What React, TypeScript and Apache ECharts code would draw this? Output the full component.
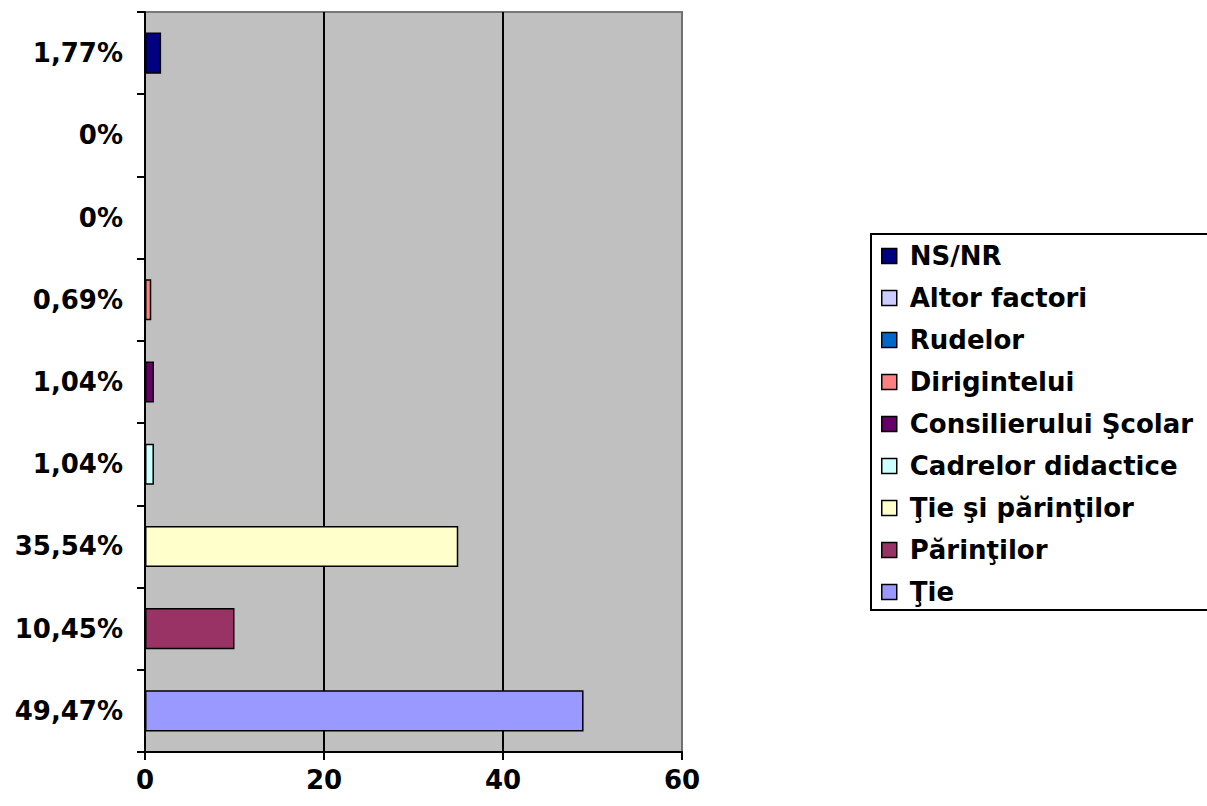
import React, { useEffect, useRef } from "react";
import * as echarts from "echarts";

// bottom-to-top order
const categoryLabels = ["49,47%", "10,45%", "35,54%", "1,04%", "1,04%", "0,69%", "0%", "0%", "1,77%"];
const seriesNames = ["Ţie", "Părinţilor", "Ţie şi părinţilor", "Cadrelor didactice", "Consilierului Şcolar", "Dirigintelui", "Rudelor", "Altor factori", "NS/NR"];
const values = [49, 10, 35, 1, 1, 0.7, 0, 0, 1.8];
const colors = ["#9999FF", "#993366", "#FFFFCC", "#CCFFFF", "#660066", "#FF8080", "#0066CC", "#CCCCFF", "#000080"];
const legendOrder = ["NS/NR", "Altor factori", "Rudelor", "Dirigintelui", "Consilierului Şcolar", "Cadrelor didactice", "Ţie şi părinţilor", "Părinţilor", "Ţie"];
const xTicks = { min: 0, max: 60, interval: 20 };

const FONT = "'DejaVu Sans', Arial, sans-serif";

export default function App() {
  const ref = useRef<HTMLDivElement>(null);
  useEffect(() => {
    if (!ref.current) return;
    const chart = echarts.init(ref.current, null, { renderer: "svg" });
    const series = seriesNames.map((name, i) => ({
      name,
      type: "bar",
      stack: "all",
      barWidth: "50%",
      data: values.map((v, j) => (j === i ? v : "-")),
      itemStyle: { color: colors[i], borderColor: "#000", borderWidth: 1.5 },
    }));
    chart.setOption({
      animation: false,
      backgroundColor: "#ffffff",
      textStyle: { fontFamily: FONT },
      grid: {
        left: 145,
        right: 525,
        top: 12,
        bottom: 54,
        show: true,
        backgroundColor: "#C0C0C0",
        borderColor: "#787878",
        borderWidth: 2,
      },
      xAxis: {
        type: "value",
        min: xTicks.min,
        max: xTicks.max,
        interval: xTicks.interval,
        axisLine: { show: true, lineStyle: { color: "#000", width: 2 } },
        axisTick: { show: true, length: 8, lineStyle: { color: "#000", width: 2 } },
        axisLabel: { color: "#000", fontSize: 26, fontWeight: "bold", fontFamily: FONT, margin: 15 },
        splitLine: { show: true, lineStyle: { color: ["#000", "#000", "#000", "#707070"], width: 2 } },
      },
      yAxis: {
        type: "category",
        data: categoryLabels,
        axisLine: { show: true, lineStyle: { color: "#000", width: 2 } },
        axisTick: { show: true, length: 8, lineStyle: { color: "#000", width: 2 } },
        axisLabel: { color: "#000", fontSize: 26, fontWeight: "bold", fontFamily: FONT, margin: 22 },
        splitLine: { show: false },
      },
      legend: {
        orient: "vertical",
        left: 871,
        top: 234,
        data: legendOrder,
        icon: "rect",
        itemWidth: 15,
        itemHeight: 15,
        itemGap: 12,
        padding: [7, 30, 3, 10],
        borderColor: "#000",
        borderWidth: 2,
        backgroundColor: "#ffffff",
        itemStyle: { borderColor: "#000", borderWidth: 1.5 },
        textStyle: { color: "#000", fontSize: 26, fontWeight: "bold", fontFamily: FONT, lineHeight: 30, padding: [0, 0, 0, 8] },
      },
      series,
    });
    return () => chart.dispose();
  }, []);
  return (
    <div
      ref={ref}
      style={{ position: "fixed", left: 0, top: 0, width: 1207, height: 806, background: "#fff" }}
    />
  );
}
